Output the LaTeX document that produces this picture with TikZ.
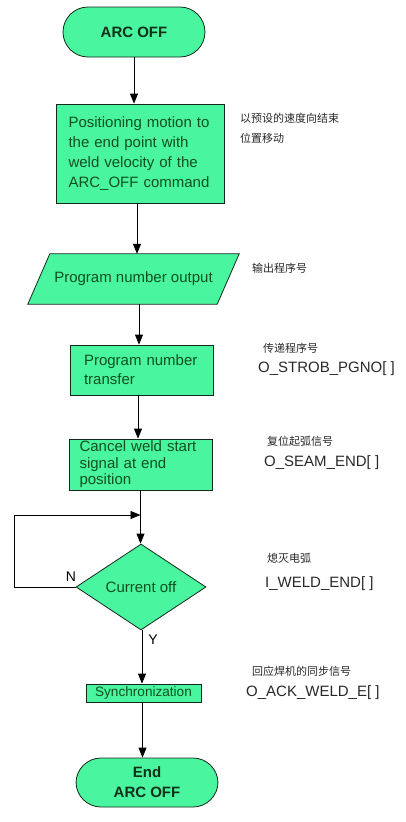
\documentclass[tikz,border=0pt]{standalone}
\usepackage{fontspec}
\setmainfont{Liberation Sans}
\newfontfamily\cjk{Noto Sans CJK SC}
\usetikzlibrary{arrows.meta,shapes.geometric,backgrounds}
\definecolor{boxfill}{RGB}{74,245,160}
\definecolor{boxtext}{RGB}{16,80,32}
\definecolor{termtext}{RGB}{16,48,24}
\definecolor{outlinecol}{RGB}{20,40,28}
\definecolor{notecol}{RGB}{40,40,40}
\begin{document}
\begin{tikzpicture}[x=1pt,y=-1pt,
  shapebox/.style={draw=outlinecol,fill=boxfill,line width=0.8pt,text=boxtext,inner sep=0pt},
  procbox/.style={shapebox,rectangle,align=left,font=\fontsize{15}{20}\selectfont},
  term/.style={shapebox,rectangle,rounded corners=25pt,minimum width=142pt,minimum height=50pt,font=\bfseries\fontsize{15}{20}\selectfont,text=termtext,align=center},
  link/.style={draw=black,line width=0.8pt},
  arr/.style={link,-{Triangle[length=10pt,width=8pt]}},
  notebase/.style={anchor=west,inner sep=0pt,text=notecol},
  cjknote/.style={notebase,font=\cjk\fontsize{11}{13}\selectfont},
  signote/.style={notebase,font=\fontsize{15}{18}\selectfont},
  yn/.style={inner sep=0pt,font=\fontsize{14}{16}\selectfont}
]
\useasboundingbox (0,0) rectangle (405,822);

% nodes
\node[term] (start) at (134,32) {ARC OFF};
\node[procbox,minimum width=168pt,minimum height=99pt,text width=143pt] (box1) at (140,153.5)
  {Positioning motion to\\the end point with\\weld velocity of the\\ARC\_OFF command};
\node[inner sep=0pt,minimum width=189pt,minimum height=50pt,text=boxtext,font=\fontsize{15}{20}\selectfont] (pno) at (133.5,279) {Program number output};
\begin{scope}[on background layer]
\draw[draw=outlinecol,fill=boxfill,line width=0.8pt]
  ([xshift=-11pt]pno.south west) -- ([xshift=-11pt]pno.south east)
  -- ([xshift=11pt]pno.north east) -- ([xshift=11pt]pno.north west) -- cycle;
\end{scope}
\node[procbox,minimum width=143pt,minimum height=50pt,text width=115pt,font=\fontsize{15}{19}\selectfont] (box2) at (141.5,370)
  {Program number\\transfer};
\node[procbox,minimum width=143pt,minimum height=51pt,text width=122pt,font=\fontsize{15}{16.5}\selectfont] (box3) at (140.5,464.5)
  {Cancel weld start\\signal at end\\position};
\node[shapebox,diamond,aspect=1.5,minimum width=130pt,minimum height=86pt,font=\fontsize{15}{18}\selectfont] (dec) at (141,587) {Current off};
\node[shapebox,rectangle,minimum width=115pt,minimum height=18pt,font=\fontsize{13.6}{16}\selectfont] (sync) at (143.5,693) {Synchronization};
\node[term,minimum height=49pt] (end) at (147,782.5) {End\\ARC OFF};

% labels on the branches
\node[yn] (nlab) at (71,577) {N};
\node[yn] (ylab) at (153,640) {Y};

% connectors
\draw[arr] (start.south) -- (start.south |- box1.north);
\draw[arr] ([xshift=-3pt]box1.south) -- ([xshift=-3pt]box1.south |- pno.north);
\draw[arr] ([xshift=5.5pt]pno.south) -- ([xshift=5.5pt]pno.south |- box2.north);
\draw[arr] ([xshift=-3.5pt]box2.south) -- ([xshift=-3.5pt]box2.south |- box3.north);
\draw[arr] (box3.south) -- (box3.south |- dec.north);
\coordinate (loopB) at (14,587);
\coordinate (loopT) at (14,515);
\coordinate (merge) at (box3.south |- loopT);
\draw[link] (dec.west) -- (loopB) -- (loopT);
\draw[arr] (loopT) -- (merge);
\draw[arr] ([xshift=1pt]dec.south) -- ([xshift=1pt]dec.south |- sync.north);
\draw[arr] ([xshift=-1pt]sync.south) -- ([xshift=-1pt]sync.south |- end.north);

% annotations
\node[cjknote] (n1a) at (240,118) {以预设的速度向结束};
\node[cjknote] (n1b) at (240,138) {位置移动};
\node[cjknote] (n2) at (252,268) {输出程序号};
\node[cjknote] (n3a) at (263,348) {传递程序号};
\node[signote] (n3b) at (258,369) {O\_STROB\_PGNO[ ]};
\node[cjknote] (n4a) at (267,441) {复位起弧信号};
\node[signote] (n4b) at (264,463) {O\_SEAM\_END[ ]};
\node[cjknote] (n5a) at (267,558) {熄灭电弧};
\node[signote] (n5b) at (265,584) {I\_WELD\_END[ ]};
\node[cjknote] (n6a) at (252,671) {回应焊机的同步信号};
\node[signote] (n6b) at (246,693) {O\_ACK\_WELD\_E[ ]};
\end{tikzpicture}
\end{document}
